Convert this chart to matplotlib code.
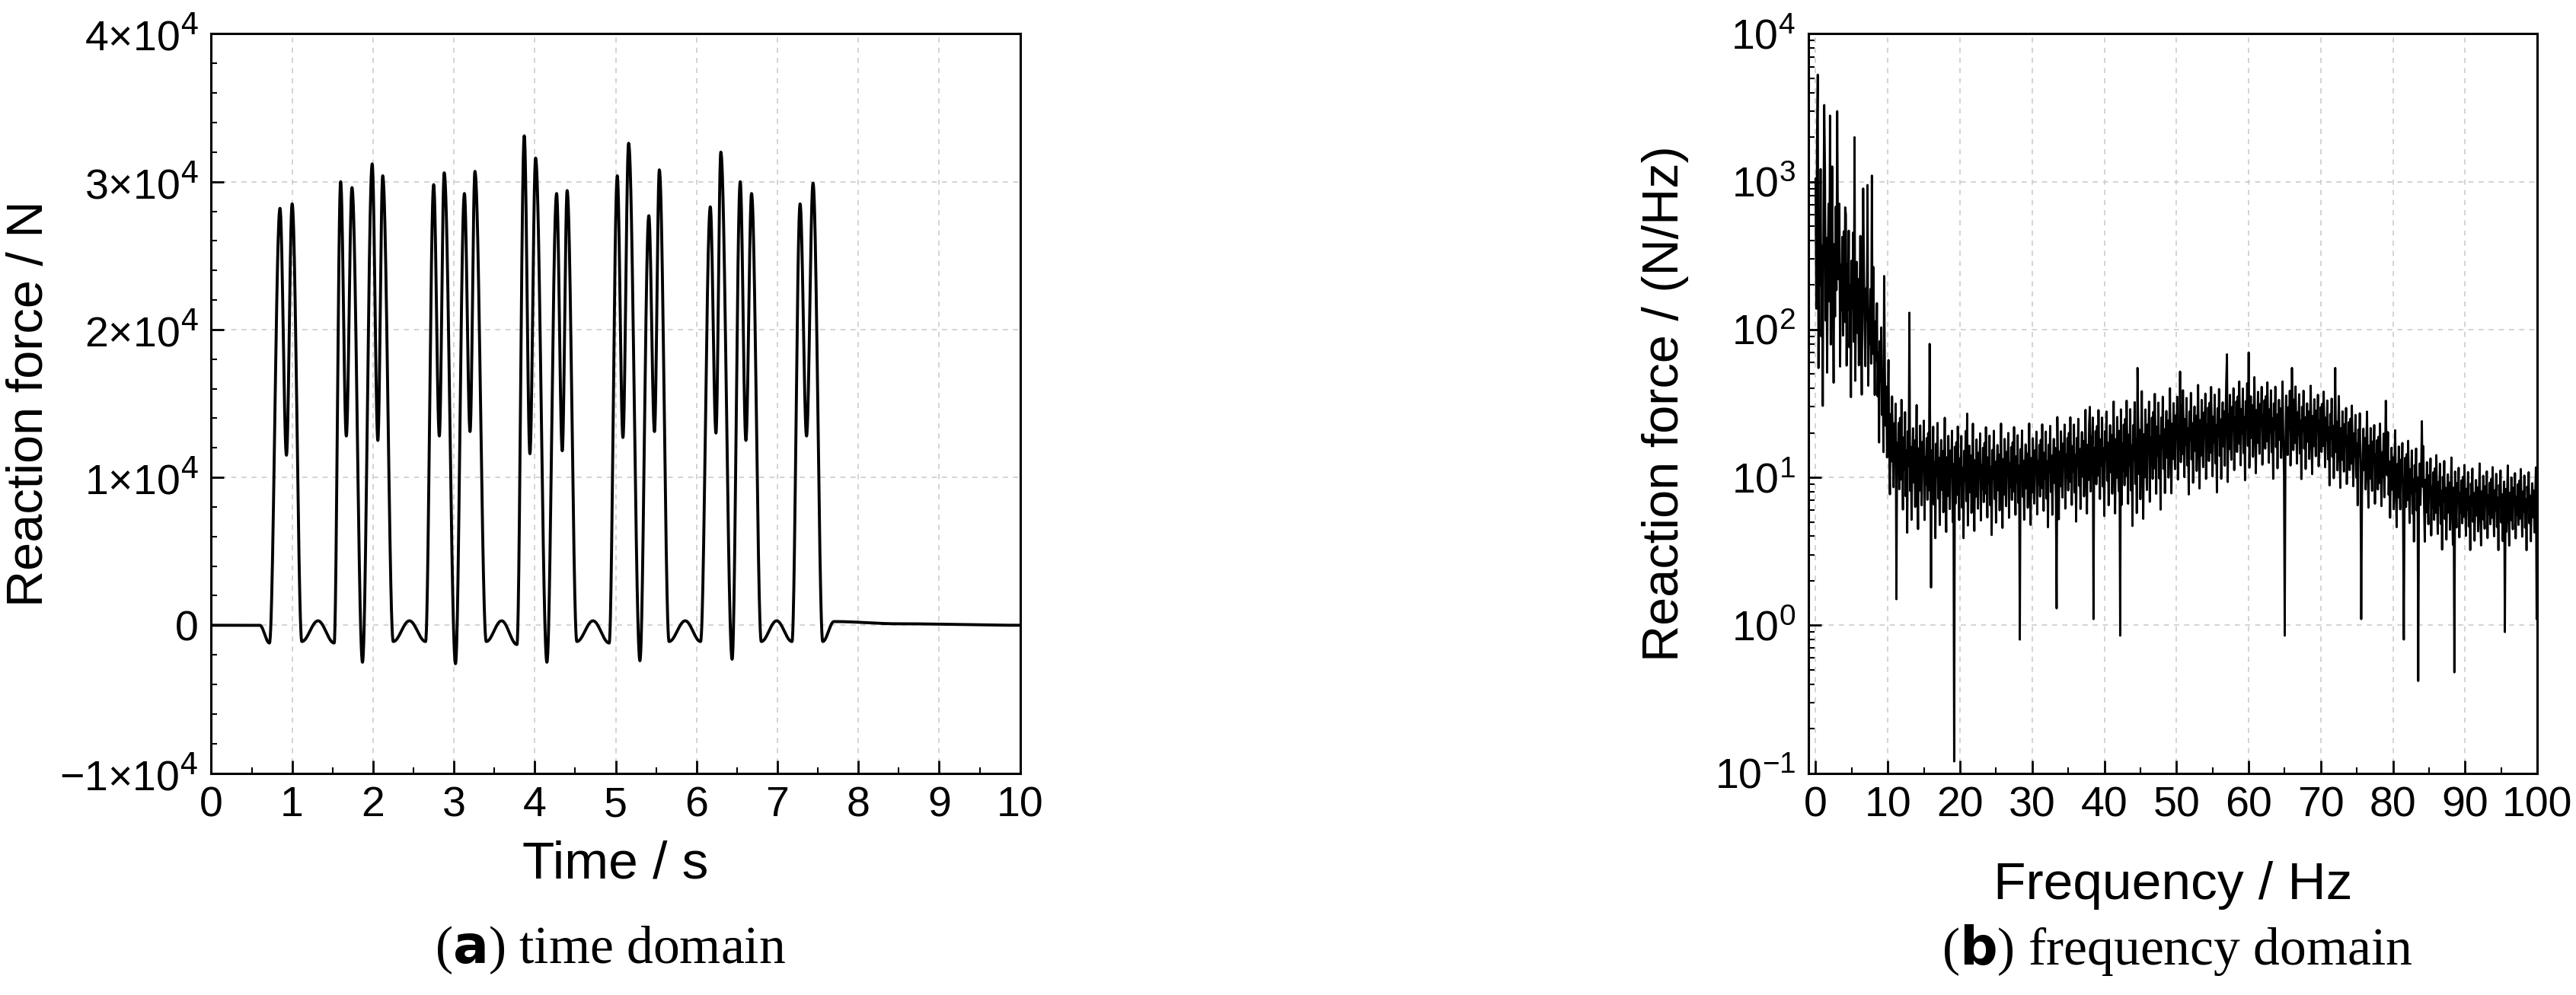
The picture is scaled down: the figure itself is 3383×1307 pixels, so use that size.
import numpy as np
import matplotlib
matplotlib.use("Agg")
import matplotlib.pyplot as plt
from matplotlib.ticker import FixedLocator, MultipleLocator, LogLocator, NullFormatter

# ---------------- data: time domain key points ----------------
key_t = [0.0, 0.60, 0.72,
         0.85, 0.93, 1.00, 1.12, 1.32, 1.52,
         1.60, 1.67, 1.74, 1.87,
         1.99, 2.06, 2.12, 2.25, 2.45, 2.65,
         2.75, 2.82, 2.88, 3.02,
         3.13, 3.20, 3.26, 3.40, 3.59, 3.78,
         3.87, 3.94, 4.01, 4.15,
         4.27, 4.34, 4.40, 4.52, 4.72, 4.92,
         5.02, 5.09, 5.16, 5.30,
         5.41, 5.48, 5.54, 5.66, 5.86, 6.05,
         6.17, 6.24, 6.30, 6.44,
         6.54, 6.61, 6.68, 6.80, 6.99, 7.18,
         7.28, 7.36, 7.44, 7.56, 7.70, 8.5, 10.0]
key_f = [0, 0, -1200,
         28200, 11500, 28500, -1100, 300, -1200,
         30000, 12800, 29600, -2500,
         31200, 12500, 30400, -1100, 300, -1100,
         29800, 12800, 30600, -2600,
         29200, 13100, 30700, -1100, 300, -1300,
         33100, 11600, 31600, -2500,
         29200, 11800, 29400, -1100, 300, -1200,
         30400, 12700, 32600, -2400,
         27700, 13100, 30800, -1100, 300, -1100,
         28300, 13000, 32000, -2300,
         30000, 12500, 29200, -1100, 300, -1100,
         28500, 12800, 29900, -1100, 250, 100, 0]

# ---------------- data: frequency domain ----------------
env_f = [0, 2, 5, 8, 9.5, 11, 15, 20, 30, 40, 45, 50, 55, 60, 70, 75, 80, 85, 90, 100]
env_hi = [2500, 1500, 600, 300, 90, 40, 30, 24, 24, 32, 40, 42, 45, 50, 42, 32, 22, 16, 13, 12]
env_lo = [20, 30, 30, 25, 10, 4, 3.5, 3.5, 4, 5, 4, 7, 7, 9, 9, 6, 4, 3, 3, 3]
spike_f = [0.3, 1.2, 2.0, 3.0, 4.2, 5.4, 6.6, 7.2, 7.8, 9.5, 13.0, 15.8, 21, 38.0, 44.6, 50.5, 57.0, 60.0, 66, 72, 79, 84]
spike_v = [5300, 3300, 2800, 3000, 600, 2000, 900, 950, 1100, 230, 130, 80, 27, 30, 55, 52, 68, 70, 55, 55, 33, 24]
dip_f = [11.2, 16.0, 19.2, 28.3, 33.4, 38.5, 42.2, 65.0, 75.6, 81.5, 83.5, 88.5, 95.5, 99.9]
dip_v = [1.5, 1.8, 0.12, 0.8, 1.3, 1.1, 0.85, 0.85, 1.1, 0.8, 0.42, 0.48, 0.9, 1.1]
texture = [0.82, 0.40, 0.95, 0.55, 0.20, 0.70, 0.48, 0.88, 0.30, 0.62, 0.05, 0.76, 0.52,
           0.92, 0.35, 0.66, 0.15, 0.58, 0.80, 0.42, 0.72, 0.25, 0.60, 0.98, 0.45, 0.10,
           0.68, 0.38, 0.85, 0.50, 0.28, 0.74, 0.56, 0.90, 0.18, 0.64, 0.44, 0.78, 0.33]

# ---------------- build curves ----------------
kt = np.array(key_t); kf = np.array(key_f)
t = np.linspace(0, 10, 4001)
idx = np.clip(np.searchsorted(kt, t, side="right") - 1, 0, len(kt) - 2)
u = (t - kt[idx]) / (kt[idx + 1] - kt[idx])
w = 0.5 - 0.5 * np.cos(np.pi * u)
force = kf[idx] + (kf[idx + 1] - kf[idx]) * w

fr = np.round(np.arange(0, 100.05, 0.1), 2)
lhi = np.interp(fr, env_f, np.log10(env_hi))
llo = np.interp(fr, env_f, np.log10(env_lo))
pat = np.array(texture)
frac = pat[np.arange(len(fr)) % len(pat)]
spec = 10 ** (llo + (lhi - llo) * frac)
for f0, v in zip(spike_f, spike_v):
    spec[np.argmin(np.abs(fr - f0))] = v
for f0, v in zip(dip_f, dip_v):
    spec[np.argmin(np.abs(fr - f0))] = v

# ---------------- plotting ----------------
plt.rcParams['font.family'] = ['Liberation Sans', 'DejaVu Sans']
fig = plt.figure(figsize=(33.83, 13.07), dpi=100)

ax1 = fig.add_axes([0.082, 0.223, 0.314, 0.743])
ax2 = fig.add_axes([0.702, 0.223, 0.283, 0.743])

ax1.plot(t, force, color='black', lw=2.8)
ax1.set_xlim(0, 10)
ax1.set_ylim(-10000, 40000)
ax1.xaxis.set_major_locator(MultipleLocator(1))
ax1.xaxis.set_minor_locator(MultipleLocator(0.5))
ax1.yaxis.set_minor_locator(MultipleLocator(2000))
yt = [-10000, 0, 10000, 20000, 30000, 40000]
ax1.set_yticks(yt)
ax1.set_yticklabels(['\u22121\u00d710$^{4}$', '0', '1\u00d710$^{4}$', '2\u00d710$^{4}$', '3\u00d710$^{4}$', '4\u00d710$^{4}$'])
ax1.set_xlabel('Time / s', fontsize=50, labelpad=14)
ax1.set_ylabel('Reaction force / N', fontsize=48, labelpad=6)

ax2.plot(fr, spec, color='black', lw=2.0)
ax2.set_yscale('log')
ax2.set_xlim(-1, 100)
ax2.set_ylim(0.1, 10000)
ax2.xaxis.set_major_locator(FixedLocator(list(range(0, 101, 10))))
ax2.xaxis.set_minor_locator(FixedLocator(list(range(5, 100, 10))))
ax2.yaxis.set_major_locator(LogLocator(base=10, numticks=10))
ax2.yaxis.set_minor_locator(LogLocator(base=10, subs=np.arange(2, 10), numticks=20))
ax2.yaxis.set_minor_formatter(NullFormatter())
ax2.set_xlabel('Frequency / Hz', fontsize=50, labelpad=34)
ax2.set_ylabel('Reaction force / (N/Hz)', fontsize=48, labelpad=24)

for ax in (ax1, ax2):
    ax.grid(True, which='major', linestyle=(0, (4, 4)), color='#cccccc', lw=1.2)
    ax.tick_params(which='major', direction='in', length=12, width=2, labelsize=40, pad=12)
    ax.tick_params(which='minor', direction='in', length=6, width=1.5)
    for s in ax.spines.values():
        s.set_linewidth(2.2)

fig.text(0.237, 0.045, r'($\mathbf{a}$) time domain', family='Liberation Serif', fontsize=50, ha='center', va='center')
fig.text(0.845, 0.045, r'($\mathbf{b}$) frequency domain', family='Liberation Serif', fontsize=50, ha='center', va='center')

fig.savefig('out.png', dpi=100)
